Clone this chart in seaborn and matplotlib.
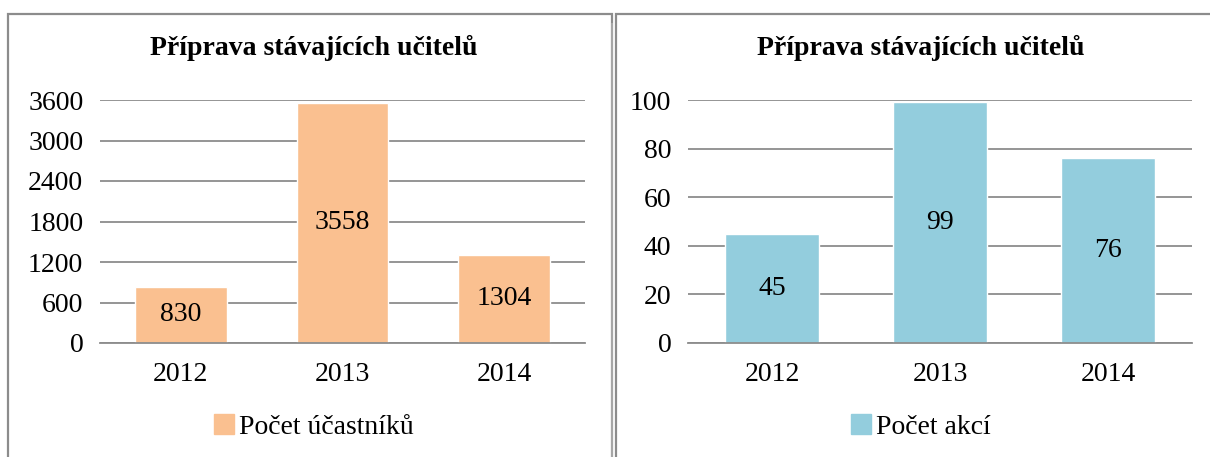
import matplotlib
matplotlib.use("Agg")
import matplotlib.pyplot as plt
import matplotlib.patches as mpatches
import pandas as pd
import seaborn as sns

# Data
years = ["2012", "2013", "2014"]
ucastnici = [830, 3558, 1304]
akce = [45, 99, 76]
title = "Příprava stávajících učitelů"
label_left = "Počet účastníků"
label_right = "Počet akcí"

sns.set_style("white")
plt.rcParams["font.family"] = ["Liberation Serif", "DejaVu Serif"]
plt.rcParams["text.color"] = "black"

fig = plt.figure(figsize=(12.1, 4.57), dpi=100)

# Panel frames
for x0, w in [(8 / 1210, 604 / 1210), (616 / 1210, 600 / 1210)]:
    fig.patches.append(mpatches.Rectangle((x0, -0.05), w, 1 - 14 / 457 + 0.05,
                                          transform=fig.transFigure, fill=False,
                                          edgecolor="#8c8c8c", linewidth=1.6))
fig.patches.append(mpatches.Rectangle((612 / 1210, -0.05), 0.0001, 1.0,
                                      transform=fig.transFigure, fill=False,
                                      edgecolor="#a6a6a6", linewidth=1.2))


def draw_panel(rect, center_x, values, color, label, ticks):
    ax = fig.add_axes(rect)
    df = pd.DataFrame({"rok": years, "hodnota": values, "serie": label})
    sns.barplot(data=df, x="rok", y="hodnota", hue="serie", palette=[color],
                width=0.565, ax=ax, saturation=1, legend=False)
    ax.set_ylim(0, ticks[-1])
    ax.set_xlim(-0.5, 2.5)
    ax.set_yticks(ticks)
    ax.yaxis.grid(True, color="#8c8c8c", linewidth=1.3)
    ax.set_axisbelow(True)
    for s in ["top", "right", "left"]:
        ax.spines[s].set_visible(False)
    ax.spines["bottom"].set_color("#8c8c8c")
    ax.spines["bottom"].set_linewidth(1.3)
    ax.tick_params(axis="both", length=0, labelsize=20, colors="black")
    ax.tick_params(axis="x", pad=14)
    ax.tick_params(axis="y", pad=12)
    ax.set_xlabel("")
    ax.set_ylabel("")
    for c in ax.containers:
        ax.bar_label(c, label_type="center", fontsize=20, color="black")
    fig.text(center_x, 1 - 48 / 457, title, fontsize=20, fontweight="bold",
             ha="center", va="center")
    handle = mpatches.Patch(color=color, label=label)
    fig.legend(handles=[handle], loc="center",
               bbox_to_anchor=(center_x, 1 - 427 / 457), frameon=False,
               fontsize=20, handlelength=0.7, handleheight=0.7,
               handletextpad=0.2, labelcolor="black")
    return ax


draw_panel([100 / 1210, 1 - 343 / 457, 485 / 1210, 243 / 457], 314 / 1210,
           ucastnici, "#FAC090", label_left, [0, 600, 1200, 1800, 2400, 3000, 3600])
draw_panel([688 / 1210, 1 - 343 / 457, 504 / 1210, 243 / 457], 921 / 1210,
           akce, "#93CDDD", label_right, [0, 20, 40, 60, 80, 100])

fig.savefig("out.png", dpi=100)
